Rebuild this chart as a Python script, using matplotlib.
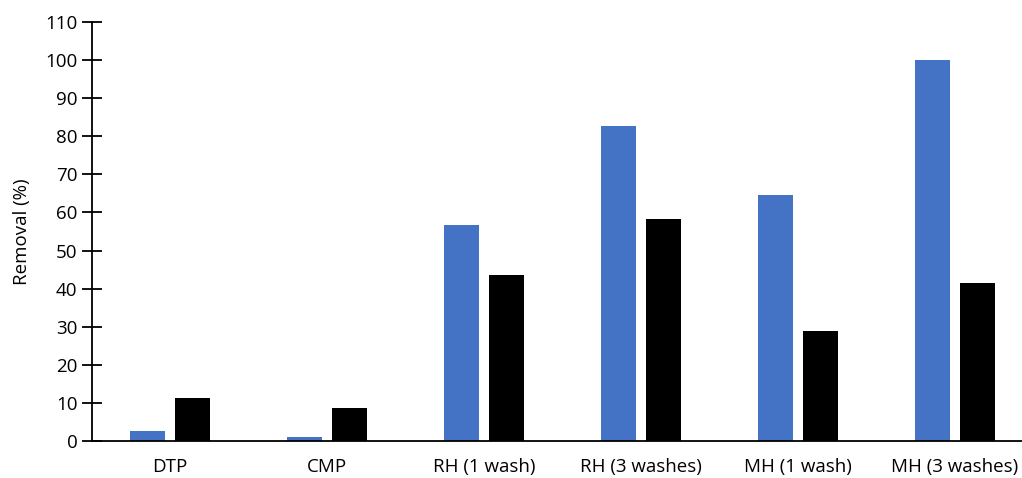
import matplotlib
matplotlib.use("Agg")
import matplotlib.pyplot as plt
import numpy as np

CATEGORIES = ["DTP", "CMP", "RH (1 wash)", "RH (3 washes)", "MH (1 wash)", "MH (3 washes)"]
BLUE_VALUES = [2.6, 1.1, 56.8, 82.6, 64.7, 100.0]
BLACK_VALUES = [11.4, 8.7, 43.6, 58.2, 29.0, 41.5]
Y_TICKS = list(range(0, 111, 10))

plt.rcParams["font.family"] = ["Open Sans", "DejaVu Sans"]

fig = plt.figure(figsize=(10.22, 4.78), dpi=100)
ax = fig.add_axes([91.5 / 1022, 37 / 478, (1033.5 - 91.5) / 1022, 419 / 478])

x = np.arange(len(CATEGORIES))
w = 0.223
ax.bar(x - 0.145, BLUE_VALUES, w, color="#4472C4")
ax.bar(x + 0.145, BLACK_VALUES, w, color="black")

ax.set_xlim(-0.5, len(CATEGORIES) - 0.5)
ax.set_ylim(0, 110)
ax.set_yticks(Y_TICKS)
ax.set_xticks(x)
ax.set_xticklabels(CATEGORIES, fontsize=13.5)
ax.tick_params(axis="y", direction="inout", length=14, width=1.3, labelsize=13.5, pad=3)
ax.tick_params(axis="x", length=0, pad=12)
ax.set_ylabel("Removal (%)", fontsize=13.5, labelpad=10)

for s in ["top", "right"]:
    ax.spines[s].set_visible(False)
ax.spines["left"].set_linewidth(1.3)
ax.spines["bottom"].set_linewidth(1.3)

fig.savefig("out.png", dpi=100)
